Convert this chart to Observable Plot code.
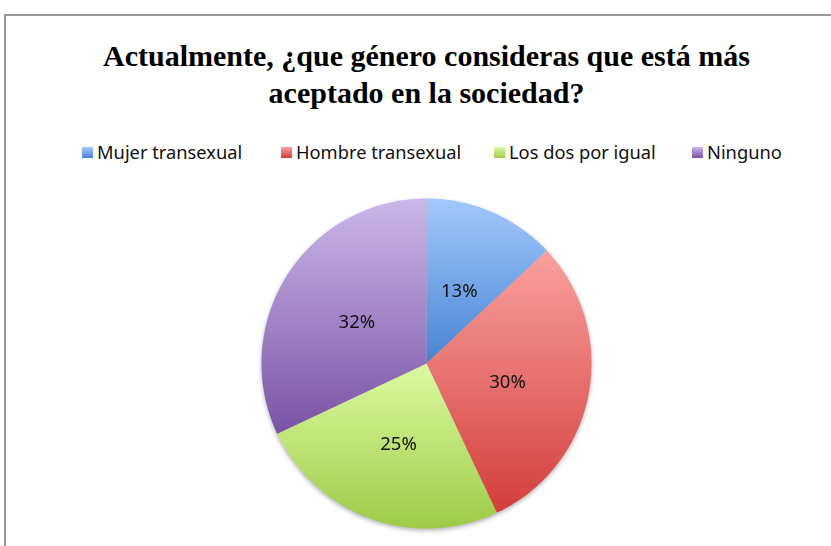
<!DOCTYPE html>
<html><head><meta charset="utf-8">
<script src="https://cdn.jsdelivr.net/npm/d3@7"></script>
<script src="https://cdn.jsdelivr.net/npm/@observablehq/plot@0.6"></script>
<style>
body{margin:0;background:#fff;}
#wrap{position:relative;width:831px;height:546px;overflow:hidden;background:#fff;}
#frame{position:absolute;left:4px;top:14px;width:900px;height:600px;border-top:2px solid #9a9a9a;border-left:2px solid #9a9a9a;}
#title{position:absolute;left:0;width:853px;top:37px;text-align:center;font:bold 30px "Liberation Serif","Times New Roman",serif;line-height:37px;color:#000;}
.leg{position:absolute;top:140px;height:24px;font:18.3px "Noto Sans",sans-serif;line-height:24px;color:#111;white-space:nowrap;}
.sw{position:absolute;left:0;top:7px;width:11px;height:11px;}
.lt{position:absolute;left:15px;top:0;}
#chart{position:absolute;left:0;top:190px;}
</style></head>
<body><div id="wrap"><div id="frame"></div><div id="title"></div><div id="legend"></div><div id="chart"></div></div>
<script>
const titleLines = ["Actualmente, ¿que género consideras que está más", "aceptado en la sociedad?"];
const categories = ["Mujer transexual", "Hombre transexual", "Los dos por igual", "Ninguno"];
const values = [13, 30, 25, 32];
const labels = ["13%", "30%", "25%", "32%"];
const colorTop = ["#a2c9fb", "#f9a19e", "#dcfaa2", "#cbb7ea"];
const colorBottom = ["#4783d3", "#d33e3a", "#9fca46", "#7953a5"];
const legendX = [82, 281, 494, 692];

document.getElementById("title").innerHTML = titleLines.join("<br>");

const legend = document.getElementById("legend");
categories.forEach((c, i) => {
  const d = document.createElement("div");
  d.className = "leg";
  d.style.left = legendX[i] + "px";
  d.innerHTML = `<span class="sw" style="background:linear-gradient(${colorTop[i]},${colorBottom[i]})"></span><span class="lt">${c}</span>`;
  legend.appendChild(d);
});

const arcs = d3.pie().sort(null).value(d => d)(values);
const slices = arcs.map((a, i) => {
  const pts = [{x: 0, y: 0}];
  const n = Math.max(8, Math.ceil((a.endAngle - a.startAngle) / 0.01));
  for (let k = 0; k <= n; k++) {
    const t = a.startAngle + (a.endAngle - a.startAngle) * k / n;
    pts.push({x: Math.sin(t), y: Math.cos(t)});
  }
  pts.push({x: 0, y: 0});
  return pts;
});
const labelData = arcs.map((a, i) => {
  const m = (a.startAngle + a.endAngle) / 2;
  return {x: 0.5 * Math.sin(m), y: 0.5 * Math.cos(m), text: labels[i]};
});

const svg = Plot.plot({
  width: 831, height: 350,
  marginLeft: 261, marginRight: 240, marginTop: 8, marginBottom: 12,
  x: {domain: [-1, 1], axis: null},
  y: {domain: [-1, 1], axis: null},
  style: {background: "transparent", overflow: "visible"},
  marks: [
    ...slices.map((pts, i) => Plot.line(pts, {x: "x", y: "y", fill: `url(#grad${i})`, stroke: "none", curve: "linear"})),
    Plot.text(labelData, {x: "x", y: "y", dy: 3, text: "text", fontSize: 18.5, fontFamily: "Noto Sans, sans-serif", fill: "#111"})
  ]
});

const s = d3.select(svg);
const defs = s.insert("defs", ":first-child");
colorTop.forEach((c, i) => {
  const g = defs.append("linearGradient").attr("id", `grad${i}`).attr("x1", 0).attr("y1", 0).attr("x2", 0).attr("y2", 1);
  g.append("stop").attr("offset", "0%").attr("stop-color", c);
  g.append("stop").attr("offset", "100%").attr("stop-color", colorBottom[i]);
});
const lineGroups = s.selectAll('g[aria-label="line"]').nodes();
const pieG = s.insert("g", 'g[aria-label="text"]').style("filter", "drop-shadow(0px 2px 2px rgba(0,0,0,0.3))");
lineGroups.forEach(n => pieG.node().appendChild(n));

document.getElementById("chart").appendChild(svg);
</script></body></html>
